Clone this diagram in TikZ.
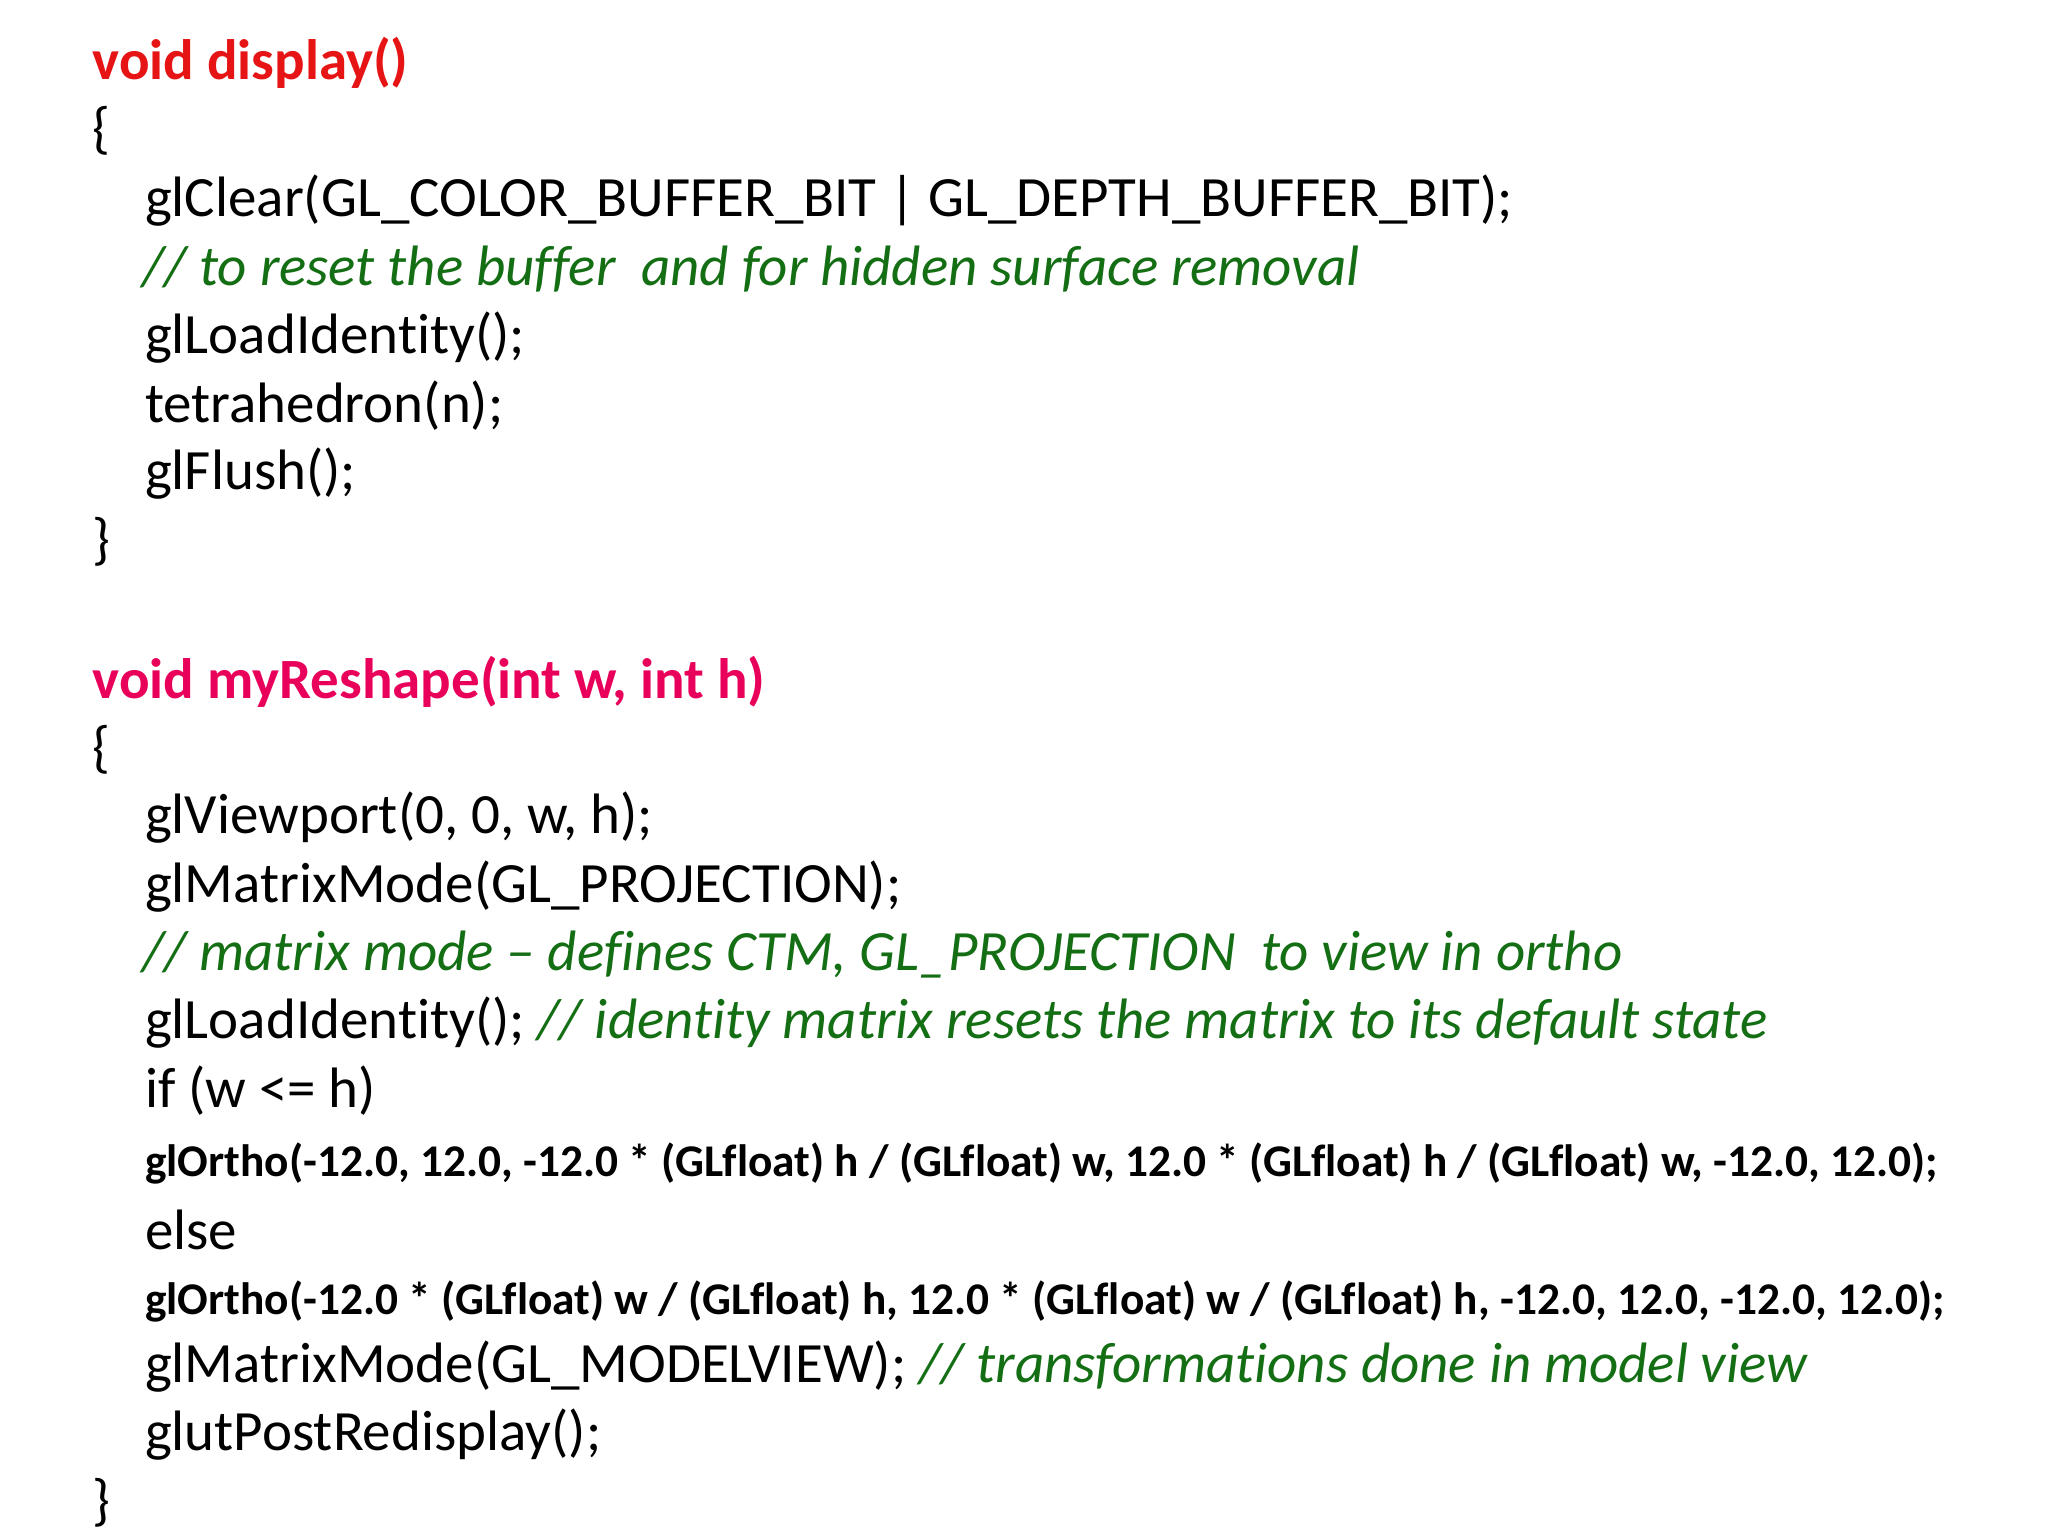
\documentclass[tikz,border=0pt]{standalone}
\usepackage{fontspec}
\setmainfont[RawFeature={-liga;-clig}]{Carlito}
\definecolor{hred}{RGB}{230,20,20}
\definecolor{hpink}{RGB}{232,0,90}
\definecolor{cgreen}{RGB}{20,110,20}
\begin{document}
\begin{tikzpicture}[x=0.01313cm,y=-0.01313cm,
  code/.style={anchor=west,inner sep=0pt,font=\fontsize{16.2}{18}\selectfont},
  small/.style={anchor=west,inner sep=0pt,font=\fontsize{12.9}{14}\selectfont\bfseries},
  head/.style={anchor=west,inner sep=0pt,font=\fontsize{16.2}{18}\selectfont\bfseries},
  cmt/.style={anchor=west,inner sep=0pt,font=\fontsize{16.2}{18}\selectfont\itshape,text=cgreen}]
\useasboundingbox[fill=white] (0,0) rectangle (1560,1170);
\node[head,text=hred] (h1) at (70,48) {void display()};
\node[code] (b1) at (70,100) {\{};
\node[code] (l1) at (110,153) {glClear(GL\_COLOR\_BUFFER\_BIT | GL\_DEPTH\_BUFFER\_BIT);};
\node[cmt] (c1) at (108,205) {// to reset the buffer\ \ and for hidden surface removal};
\node[code] (l2) at (110,257) {glLoadIdentity();};
\node[code] (l3) at (110,309) {tetrahedron(n);};
\node[code] (l4) at (110,361) {glFlush();};
\node[code] (b2) at (70,413) {\}};
\node[head,text=hpink] (h2) at (70,519) {void myReshape(int w, int h)};
\node[code] (b3) at (70,571) {\{};
\node[code] (m1) at (110,623) {glViewport(0, 0, w, h);};
\node[code] (m2) at (110,675) {glMatrixMode(GL\_PROJECTION);};
\node[cmt] (c2) at (108,727) {// matrix mode – defines CTM, GL\_PROJECTION\ \ to view in ortho};
\node[code] (m3) at (110,779) {glLoadIdentity(); {\itshape\color{cgreen}// identity matrix resets the matrix to its default state}};
\node[code] (m4) at (110,831) {if (w <= h)};
\node[small] (m5) at (110,886) {glOrtho(-12.0, 12.0, -12.0 * (GLfloat) h / (GLfloat) w, 12.0 * (GLfloat) h / (GLfloat) w, -12.0, 12.0);};
\node[code] (m6) at (110,937) {else};
\node[small] (m7) at (110,991) {glOrtho(-12.0 * (GLfloat) w / (GLfloat) h, 12.0 * (GLfloat) w / (GLfloat) h, -12.0, 12.0, -12.0, 12.0);};
\node[code] (m8) at (110,1041) {glMatrixMode(GL\_MODELVIEW); {\itshape\color{cgreen}// transformations done in model view}};
\node[code] (m9) at (110,1093) {glutPostRedisplay();};
\node[code] (b4) at (70,1145) {\}};
\end{tikzpicture}
\end{document}
